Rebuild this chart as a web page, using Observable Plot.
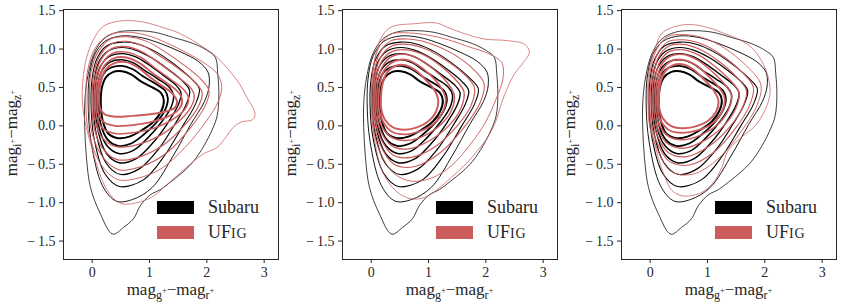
<!DOCTYPE html>
<html><head><meta charset="utf-8">
<script src="https://cdn.jsdelivr.net/npm/d3@7"></script>
<script src="https://cdn.jsdelivr.net/npm/@observablehq/plot@0.6"></script>
<style>
body{margin:0;background:#fff;}
#row{display:flex;width:843px;height:305px;}
#row svg{display:block;flex:none;}
</style></head><body><div id="row"></div>
<script>
const xTicks = [0, 1, 2, 3];
const yTicks = [-1.5, -1, -0.5, 0, 0.5, 1, 1.5];
const seriesNames = ["Subaru", "UFIG"];
const seriesColors = ["#000000", "#cd5c5c"];

// Subaru contours (same in all panels), innermost first, [x, y]
const subaruContours = [
  [[0.15,0.30],[0.17,0.50],[0.24,0.63],[0.36,0.70],[0.52,0.71],[0.68,0.67],[0.85,0.58],[1.05,0.50],[1.20,0.43],[1.25,0.33],[1.21,0.20],[1.08,0.06],[0.88,-0.05],[0.65,-0.14],[0.45,-0.16],[0.28,-0.10],[0.18,0.08]],
  [[0.11,0.30],[0.13,0.52],[0.20,0.68],[0.33,0.76],[0.52,0.78],[0.70,0.74],[0.88,0.65],[1.10,0.55],[1.27,0.46],[1.32,0.36],[1.28,0.22],[1.14,0.06],[0.92,-0.10],[0.68,-0.23],[0.45,-0.26],[0.27,-0.18],[0.15,0.02]],
  [[0.08,0.30],[0.10,0.55],[0.17,0.72],[0.31,0.83],[0.52,0.86],[0.72,0.82],[0.92,0.72],[1.15,0.61],[1.35,0.50],[1.42,0.40],[1.38,0.25],[1.22,0.06],[0.98,-0.15],[0.72,-0.32],[0.46,-0.36],[0.26,-0.26],[0.12,-0.02]],
  [[0.05,0.30],[0.07,0.58],[0.14,0.77],[0.29,0.90],[0.52,0.94],[0.75,0.90],[0.98,0.80],[1.22,0.67],[1.46,0.53],[1.55,0.43],[1.50,0.27],[1.33,0.05],[1.06,-0.22],[0.76,-0.43],[0.47,-0.48],[0.25,-0.36],[0.10,-0.06]],
  [[0.02,0.30],[0.04,0.60],[0.11,0.82],[0.27,0.97],[0.52,1.02],[0.78,0.98],[1.05,0.88],[1.32,0.74],[1.58,0.58],[1.70,0.46],[1.64,0.28],[1.45,0.03],[1.16,-0.30],[0.82,-0.56],[0.48,-0.63],[0.24,-0.48],[0.07,-0.10]],
  [[-0.02,0.30],[0.0,0.62],[0.08,0.87],[0.25,1.04],[0.52,1.09],[0.82,1.06],[1.12,0.96],[1.42,0.81],[1.72,0.62],[1.87,0.48],[1.80,0.28],[1.58,0.0],[1.27,-0.38],[0.90,-0.70],[0.48,-0.79],[0.22,-0.62],[0.03,-0.15]],
  [[-0.07,0.30],[-0.05,0.64],[0.04,0.92],[0.22,1.10],[0.50,1.17],[0.85,1.15],[1.20,1.07],[1.55,0.96],[1.85,0.84],[2.02,0.70],[2.04,0.52],[1.96,0.32],[1.72,0.02],[1.42,-0.38],[1.05,-0.80],[0.70,-0.96],[0.42,-0.98],[0.18,-0.78],[-0.02,-0.20]],
  [[-0.13,0.30],[-0.08,0.63],[0.03,0.94],[0.20,1.13],[0.44,1.22],[0.73,1.24],[1.08,1.22],[1.42,1.15],[1.77,1.07],[2.01,0.98],[2.15,0.89],[2.19,0.68],[2.21,0.40],[2.18,0.13],[2.10,-0.04],[1.95,-0.26],[1.77,-0.46],[1.60,-0.59],[1.37,-0.73],[1.19,-0.83],[1.01,-0.90],[0.84,-1.04],[0.72,-1.21],[0.55,-1.32],[0.36,-1.41],[0.14,-1.14],[-0.03,-0.80],[-0.10,-0.41],[-0.13,-0.02]]
];

// UFIG contours, panel 1
const ufigPanel1 = [
  [[0.12,0.35],[0.15,0.58],[0.24,0.74],[0.40,0.82],[0.60,0.83],[0.80,0.76],[1.00,0.64],[1.22,0.52],[1.40,0.42],[1.48,0.32],[1.45,0.24],[1.30,0.19],[1.00,0.15],[0.70,0.13],[0.40,0.12],[0.22,0.15],[0.14,0.22]],
  [[0.09,0.35],[0.12,0.60],[0.21,0.78],[0.38,0.88],[0.60,0.89],[0.82,0.82],[1.05,0.69],[1.30,0.56],[1.50,0.44],[1.57,0.33],[1.52,0.22],[1.32,0.12],[1.02,0.05],[0.70,0.01],[0.40,0.0],[0.20,0.05],[0.11,0.16]],
  [[0.06,0.35],[0.09,0.63],[0.19,0.83],[0.37,0.95],[0.60,0.96],[0.85,0.89],[1.10,0.75],[1.38,0.60],[1.60,0.47],[1.68,0.36],[1.62,0.22],[1.40,0.08],[1.08,-0.03],[0.72,-0.09],[0.40,-0.10],[0.18,-0.03],[0.08,0.12]],
  [[0.03,0.35],[0.06,0.65],[0.16,0.87],[0.35,1.01],[0.60,1.03],[0.88,0.96],[1.16,0.82],[1.45,0.66],[1.70,0.51],[1.78,0.40],[1.72,0.24],[1.50,0.05],[1.15,-0.14],[0.76,-0.25],[0.42,-0.27],[0.17,-0.15],[0.05,0.08]],
  [[0.0,0.35],[0.03,0.68],[0.14,0.92],[0.34,1.07],[0.60,1.10],[0.92,1.03],[1.22,0.89],[1.55,0.72],[1.82,0.55],[1.92,0.43],[1.85,0.25],[1.60,0.0],[1.22,-0.26],[0.80,-0.41],[0.44,-0.44],[0.17,-0.28],[0.02,0.03]],
  [[-0.05,0.35],[-0.02,0.70],[0.10,0.96],[0.32,1.13],[0.60,1.16],[0.95,1.10],[1.28,0.96],[1.62,0.78],[1.92,0.59],[2.04,0.45],[1.97,0.26],[1.72,-0.02],[1.32,-0.34],[0.86,-0.53],[0.46,-0.57],[0.16,-0.38],[-0.03,0.0]],
  [[-0.11,0.35],[-0.08,0.72],[0.05,1.01],[0.28,1.18],[0.58,1.22],[0.95,1.18],[1.30,1.08],[1.65,0.95],[1.95,0.82],[2.18,0.68],[2.26,0.52],[2.20,0.32],[1.98,0.05],[1.62,-0.28],[1.20,-0.56],[0.80,-0.68],[0.45,-0.70],[0.15,-0.50],[-0.07,-0.05]],
  [[-0.17,0.30],[-0.16,0.60],[-0.10,0.88],[0.02,1.12],[0.20,1.30],[0.55,1.37],[0.90,1.35],[1.24,1.28],[1.54,1.20],[1.95,1.02],[2.18,0.89],[2.53,0.59],[2.70,0.37],[2.84,0.16],[2.80,0.08],[2.60,0.05],[2.45,-0.03],[2.34,-0.14],[2.18,-0.28],[1.95,-0.36],[1.77,-0.46],[1.60,-0.57],[1.42,-0.69],[1.25,-0.80],[1.10,-0.90],[0.84,-0.99],[0.50,-1.01],[0.28,-0.86],[0.12,-0.60],[0.0,-0.30],[-0.11,0.0]]
];

// UFIG contours, panel 2
const ufigPanel2 = [
  [[0.17,0.35],[0.20,0.55],[0.28,0.70],[0.42,0.78],[0.60,0.79],[0.78,0.72],[0.95,0.60],[1.10,0.47],[1.17,0.33],[1.13,0.18],[1.00,0.06],[0.80,-0.02],[0.58,-0.05],[0.38,-0.02],[0.24,0.08],[0.18,0.20]],
  [[0.13,0.35],[0.16,0.58],[0.25,0.75],[0.40,0.84],[0.62,0.86],[0.82,0.79],[1.02,0.67],[1.20,0.52],[1.30,0.36],[1.25,0.18],[1.10,0.03],[0.85,-0.07],[0.60,-0.11],[0.37,-0.08],[0.21,0.05],[0.14,0.20]],
  [[0.10,0.35],[0.12,0.60],[0.22,0.80],[0.38,0.91],[0.62,0.93],[0.86,0.86],[1.10,0.73],[1.32,0.57],[1.45,0.40],[1.40,0.20],[1.22,0.02],[0.92,-0.13],[0.62,-0.19],[0.36,-0.15],[0.18,0.0],[0.11,0.18]],
  [[0.07,0.35],[0.09,0.63],[0.19,0.85],[0.37,0.97],[0.62,0.99],[0.90,0.93],[1.18,0.80],[1.45,0.62],[1.62,0.44],[1.56,0.22],[1.35,0.0],[1.00,-0.20],[0.65,-0.30],[0.36,-0.26],[0.16,-0.06],[0.08,0.15]],
  [[0.05,0.35],[0.07,0.66],[0.17,0.90],[0.36,1.04],[0.64,1.06],[0.95,1.00],[1.25,0.88],[1.58,0.70],[1.80,0.50],[1.74,0.26],[1.50,0.0],[1.10,-0.28],[0.70,-0.41],[0.38,-0.38],[0.15,-0.14],[0.06,0.12]],
  [[0.03,0.35],[0.05,0.68],[0.15,0.95],[0.35,1.11],[0.65,1.13],[1.00,1.08],[1.35,0.97],[1.72,0.78],[1.97,0.55],[1.90,0.30],[1.64,0.0],[1.22,-0.34],[0.76,-0.53],[0.40,-0.50],[0.14,-0.22],[0.04,0.08]],
  [[0.01,0.35],[0.03,0.72],[0.12,1.00],[0.33,1.19],[0.65,1.21],[1.00,1.18],[1.35,1.12],[1.70,1.03],[2.05,0.94],[2.28,0.82],[2.30,0.62],[2.18,0.35],[1.98,0.03],[1.72,-0.25],[1.40,-0.52],[1.05,-0.68],[0.70,-0.72],[0.40,-0.62],[0.16,-0.35],[0.03,0.0]],
  [[0.01,0.20],[0.02,0.63],[0.10,0.98],[0.20,1.18],[0.36,1.29],[0.76,1.33],[1.14,1.34],[1.34,1.28],[1.63,1.20],[1.98,1.13],[2.38,1.11],[2.68,1.06],[2.76,0.96],[2.64,0.81],[2.50,0.68],[2.38,0.50],[2.27,0.29],[2.18,0.07],[2.03,-0.15],[1.86,-0.32],[1.66,-0.49],[1.40,-0.67],[1.17,-0.82],[0.94,-0.93],[0.70,-0.95],[0.45,-0.86],[0.20,-0.60],[0.07,-0.23]]
];

// UFIG contours, panel 3
const ufigPanel3 = [
  [[0.15,0.35],[0.18,0.56],[0.26,0.71],[0.40,0.79],[0.58,0.80],[0.76,0.73],[0.93,0.61],[1.10,0.47],[1.19,0.33],[1.14,0.17],[1.00,0.06],[0.78,-0.01],[0.55,-0.03],[0.36,0.0],[0.22,0.10],[0.16,0.22]],
  [[0.12,0.35],[0.15,0.58],[0.23,0.75],[0.38,0.85],[0.58,0.86],[0.80,0.79],[1.00,0.66],[1.20,0.50],[1.30,0.36],[1.25,0.18],[1.08,0.03],[0.82,-0.06],[0.56,-0.09],[0.34,-0.06],[0.19,0.06],[0.13,0.20]],
  [[0.09,0.35],[0.12,0.60],[0.20,0.80],[0.36,0.91],[0.58,0.93],[0.82,0.86],[1.06,0.72],[1.30,0.54],[1.42,0.39],[1.36,0.20],[1.18,0.02],[0.88,-0.12],[0.58,-0.18],[0.33,-0.14],[0.16,0.01],[0.10,0.18]],
  [[0.06,0.35],[0.09,0.63],[0.18,0.85],[0.34,0.97],[0.58,0.99],[0.85,0.92],[1.12,0.78],[1.40,0.59],[1.55,0.43],[1.49,0.22],[1.28,0.0],[0.95,-0.19],[0.60,-0.29],[0.32,-0.24],[0.14,-0.05],[0.07,0.15]],
  [[0.03,0.35],[0.06,0.66],[0.15,0.90],[0.33,1.04],[0.58,1.06],[0.88,0.99],[1.18,0.85],[1.50,0.64],[1.68,0.46],[1.61,0.24],[1.38,-0.02],[1.02,-0.27],[0.64,-0.40],[0.32,-0.35],[0.12,-0.12],[0.04,0.12]],
  [[0.0,0.35],[0.03,0.68],[0.13,0.94],[0.32,1.10],[0.58,1.12],[0.92,1.06],[1.25,0.92],[1.60,0.70],[1.80,0.50],[1.73,0.26],[1.48,-0.04],[1.10,-0.35],[0.68,-0.51],[0.33,-0.46],[0.10,-0.18],[0.01,0.08]],
  [[-0.03,0.35],[0.0,0.72],[0.11,0.99],[0.30,1.16],[0.58,1.19],[0.95,1.14],[1.30,1.01],[1.68,0.78],[1.93,0.54],[1.87,0.28],[1.60,-0.06],[1.20,-0.42],[0.74,-0.63],[0.36,-0.59],[0.10,-0.26],[-0.02,0.05]],
  [[-0.04,0.33],[-0.02,0.72],[0.09,1.02],[0.20,1.20],[0.38,1.28],[0.67,1.32],[1.01,1.28],[1.30,1.20],[1.54,1.13],[1.77,1.02],[1.94,0.85],[2.06,0.63],[2.09,0.42],[2.00,0.20],[1.83,0.0],[1.59,-0.15],[1.36,-0.32],[1.25,-0.54],[1.13,-0.71],[0.96,-0.84],[0.78,-0.90],[0.55,-0.91],[0.38,-0.84],[0.26,-0.67],[0.14,-0.41],[0.03,-0.06]]
];

const panels = [ufigPanel1, ufigPanel2, ufigPanel3];
const lineWidths = [2.0, 1.8, 1.5, 1.35, 1.2, 1.05, 0.9, 0.75];
const textColor = "#262626";

function toRows(contours, series) {
  const rows = [];
  contours.forEach((c, level) => c.forEach(([x, y]) => rows.push({x, y, level, series})));
  return rows;
}

function axisLabel(svg, x, y, rot, s1, s2) {
  const t = d3.select(svg).append("text")
    .attr("transform", `translate(${x},${y}) rotate(${rot})`)
    .attr("text-anchor", "middle").attr("fill", textColor)
    .style("font-size", "17px");
  t.append("tspan").text("mag");
  t.append("tspan").attr("dy", 3.5).style("font-size", "12px").text(s1);
  t.append("tspan").attr("dy", -5.5).style("font-size", "8.5px").text("+");
  t.append("tspan").attr("dy", 2).text("\u2212mag");
  t.append("tspan").attr("dy", 3.5).style("font-size", "12px").text(s2);
  t.append("tspan").attr("dy", -5.5).style("font-size", "8.5px").text("+");
}

function legend(svg) {
  const g = d3.select(svg).append("g").attr("text-anchor", "start");
  seriesNames.forEach((name, i) => {
    const y0 = 201 + i * 25;
    g.append("rect").attr("x", 157).attr("y", y0).attr("width", 37).attr("height", 13).attr("fill", seriesColors[i]);
    const t = g.append("text").attr("x", 208).attr("y", y0 + 11.5).attr("text-anchor", "start")
      .attr("fill", textColor).style("font-size", "18px");
    if (name === "UFIG") {
      t.append("tspan").text("UF");
      t.append("tspan").style("font-size", "14px").attr("letter-spacing", "0.8").text("IG");
    } else {
      t.text(name);
    }
  });
}

const row = document.getElementById("row");
panels.forEach((ufig) => {
  const rows = toRows(subaruContours, "Subaru").concat(toRows(ufig, "UFIG"));
  const marks = [];
  for (const s of seriesNames) {
    for (let k = 0; k < lineWidths.length; k++) {
      marks.push(Plot.line(rows.filter(d => d.series === s && d.level === k), {
        x: "x", y: "y", stroke: "series", strokeWidth: lineWidths[k],
        curve: "catmull-rom-closed"
      }));
    }
  }
  marks.push(Plot.frame({stroke: textColor, strokeWidth: 1}));
  const svg = Plot.plot({
    width: 279, height: 305,
    marginLeft: 63, marginRight: 1, marginTop: 9, marginBottom: 46,
    style: {fontFamily: "'Liberation Serif', serif", fontSize: "14px", color: textColor, background: "#fff"},
    x: {domain: [-0.5, 3.25], ticks: xTicks, tickSize: 4, tickPadding: 4, label: null,
        tickFormat: d => String(d)},
    y: {domain: [-1.74, 1.515], ticks: yTicks, tickSize: 4, tickPadding: 4, label: null,
        tickFormat: d => (d < 0 ? "\u2212\u2009" : "") + Math.abs(d).toFixed(1)},
    color: {domain: seriesNames, range: seriesColors},
    marks
  });
  axisLabel(svg, 170.5, 295, 0, "g", "r");
  axisLabel(svg, 17, 133, -90, "i", "z");
  legend(svg);
  row.appendChild(svg);
});
</script>
</body></html>
